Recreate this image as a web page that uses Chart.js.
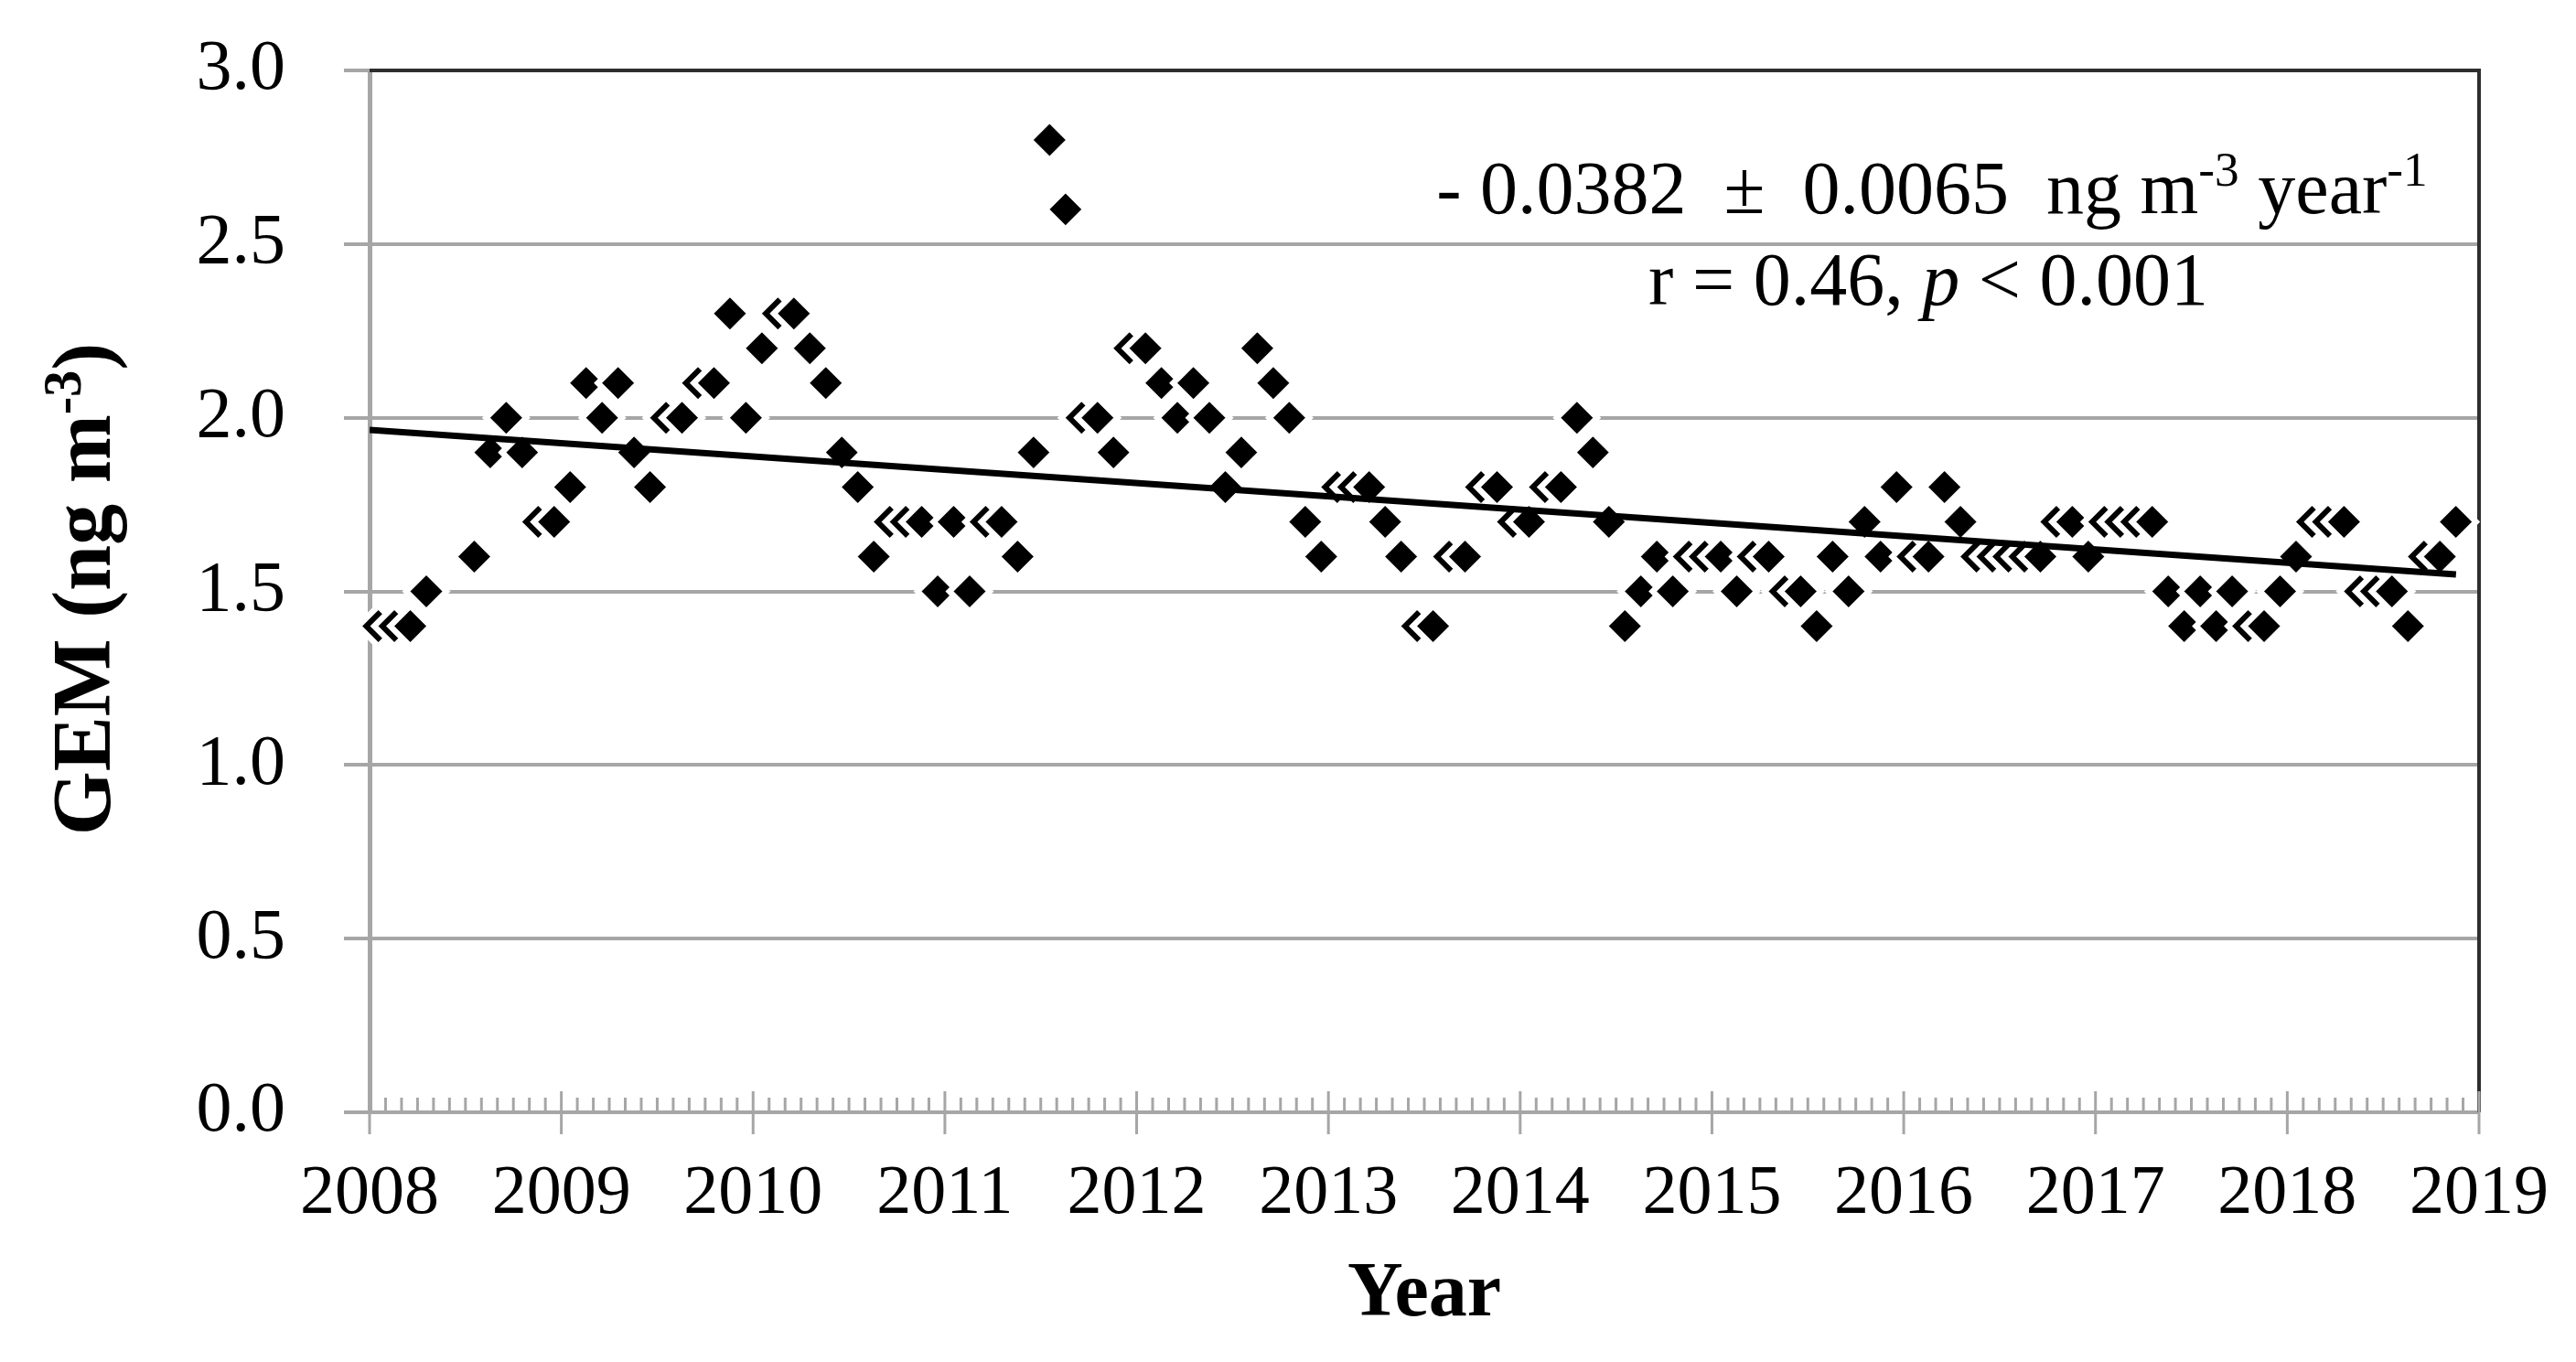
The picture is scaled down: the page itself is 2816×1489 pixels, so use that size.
<!DOCTYPE html>
<html>
<head>
<meta charset="utf-8">
<title>GEM monthly trend</title>
<style>
  html, body { margin: 0; padding: 0; background: #fff; }
  #wrap { width: 2816px; height: 1489px; }
</style>
<script src="https://cdn.jsdelivr.net/npm/chart.js@4.4.1/dist/chart.umd.min.js"></script>
</head>
<body>
<div id="wrap"><canvas id="gemChart" width="2816" height="1489"></canvas></div>
<script>
// monthly mean GEM (ng m-3), Jan..Dec, null = no data
const gem2008 = [1.4, 1.4, 1.4, 1.5, null, null, 1.6, 1.9, 2.0, 1.9, 1.7, 1.7];
const gem2009 = [1.8, 2.1, 2.0, 2.1, 1.9, 1.8, 2.0, 2.0, 2.1, 2.1, 2.3, 2.0];
const gem2010 = [2.2, 2.3, 2.3, 2.2, 2.1, 1.9, 1.8, 1.6, 1.7, 1.7, 1.7, 1.5];
const gem2011 = [1.7, 1.5, 1.7, 1.7, 1.6, 1.9, 2.8, 2.6, 2.0, 2.0, 1.9, 2.2];
const gem2012 = [2.2, 2.1, 2.0, 2.1, 2.0, 1.8, 1.9, 2.2, 2.1, 2.0, 1.7, 1.6];
const gem2013 = [1.8, 1.8, 1.8, 1.7, 1.6, 1.4, 1.4, 1.6, 1.6, 1.8, 1.8, 1.7];
const gem2014 = [1.7, 1.8, 1.8, 2.0, 1.9, 1.7, 1.4, 1.5, 1.6, 1.5, 1.6, 1.6];
const gem2015 = [1.6, 1.5, 1.6, 1.6, 1.5, 1.5, 1.4, 1.6, 1.5, 1.7, 1.6, 1.8];
const gem2016 = [1.6, 1.6, 1.8, 1.7, 1.6, 1.6, 1.6, 1.6, 1.6, 1.7, 1.7, 1.6];
const gem2017 = [1.7, 1.7, 1.7, 1.7, 1.5, 1.4, 1.5, 1.4, 1.5, 1.4, 1.4, 1.5];
const gem2018 = [1.6, 1.7, 1.7, 1.7, 1.5, 1.5, 1.5, 1.4, 1.6, 1.6, 1.7, null];

const years = [2008, 2009, 2010, 2011, 2012, 2013, 2014, 2015, 2016, 2017, 2018];
const gemByYear = [gem2008, gem2009, gem2010, gem2011, gem2012, gem2013,
                   gem2014, gem2015, gem2016, gem2017, gem2018];

// linear trend end points
const trendX = [2008.0, 2018.88];
const trendY = [1.965, 1.549];

// axis ticks
const yearTicks = [2008, 2009, 2010, 2011, 2012, 2013, 2014, 2015, 2016, 2017, 2018, 2019];
const gemTicks = [0, 0.5, 1.0, 1.5, 2.0, 2.5, 3.0];

const serif = "'Liberation Serif', 'Times New Roman', serif";
const gridGray = '#a6a6a6';

let points = [];
years.forEach(function(yr, i){
  gemByYear[i].forEach(function(v, mo){
    if(v !== null){
      points.push({x: yr + (mo + 0.55) / 12, y: v});
    }
  });
});

let trend = [];
for(let i=0; i<trendX.length; i++){
  trend.push({x: trendX[i], y: trendY[i]});
}

// draws a row of text pieces (normal / italic / superscript) centred on cx
function drawRuns(ctx, runs, cx, baseline, size, weight){
  let total = 0;
  runs.forEach(function(r){
    let s = r.sup ? size * 0.65 : size;
    r.font = (r.italic ? 'italic ' : '') + weight + ' ' + s + 'px ' + serif;
    ctx.font = r.font;
    r.w = ctx.measureText(r.t).width;
    total += r.w;
  });
  let x = cx - total / 2;
  runs.forEach(function(r){
    ctx.font = r.font;
    ctx.fillText(r.t, x, baseline - (r.sup ? size * 0.36 : 0));
    x += r.w;
  });
}

const framePlugin = {
  id: 'frame',
  beforeDatasetsDraw(chart){
    const ctx = chart.ctx;
    const a = chart.chartArea;
    const xs = chart.scales.x;
    ctx.save();
    // top + right border of the plot area
    ctx.strokeStyle = '#2e2e2e';
    ctx.lineWidth = 4;
    ctx.beginPath();
    ctx.moveTo(a.left, a.top);
    ctx.lineTo(a.right, a.top);
    ctx.lineTo(a.right, a.bottom);
    ctx.stroke();
    // year ticks cross the axis, month ticks sit inside
    ctx.strokeStyle = gridGray;
    ctx.lineWidth = 3;
    ctx.beginPath();
    for(let yr=yearTicks[0]; yr<=yearTicks[yearTicks.length-1]; yr++){
      let px = xs.getPixelForValue(yr);
      ctx.moveTo(px, a.bottom - 23);
      ctx.lineTo(px, a.bottom + 24);
      if(yr == yearTicks[yearTicks.length-1]) break;
      for(let m=1; m<12; m++){
        let mx = xs.getPixelForValue(yr + m / 12);
        ctx.moveTo(mx, a.bottom - 16);
        ctx.lineTo(mx, a.bottom);
      }
    }
    ctx.stroke();
    ctx.restore();
  },
  afterDraw(chart){
    const ctx = chart.ctx;
    ctx.save();
    ctx.fillStyle = '#000';
    ctx.textBaseline = 'alphabetic';
    // trend annotation
    drawRuns(ctx, [
      {t: '- 0.0382  \u00b1  0.0065  ng m'},
      {t: '-3', sup: true},
      {t: ' year'},
      {t: '-1', sup: true}
    ], 2112, 233, 82, 'normal');
    drawRuns(ctx, [
      {t: 'r = 0.46, '},
      {t: 'p', italic: true},
      {t: ' < 0.001'}
    ], 2108, 333, 82, 'normal');
    // y axis title
    ctx.translate(90, 644);
    ctx.rotate(-Math.PI / 2);
    drawRuns(ctx, [
      {t: 'GEM (ng m'},
      {t: '-3', sup: true},
      {t: ')'}
    ], 0, 30, 90, 'bold');
    ctx.restore();
  }
};

const ctx = document.getElementById('gemChart');

new Chart(ctx, {
  type: 'scatter',
  data: {
    datasets: [{
      type: 'line',
      data: trend,
      borderColor: '#000',
      borderWidth: 7,
      pointRadius: 0,
      fill: false,
      order: 0
    }, {
      data: points,
      pointStyle: 'rectRot',
      pointRadius: 22,
      pointBorderWidth: 6.4,
      pointBackgroundColor: '#000',
      pointBorderColor: '#fff',
      pointHoverRadius: 22,
      clip: false,
      order: 1
    }]
  },
  options: {
    responsive: false,
    animation: false,
    devicePixelRatio: 1,
    layout: {
      padding: {left: 0, right: 106, top: 77, bottom: 0}
    },
    plugins: {
      legend: {display: false},
      tooltip: {enabled: false}
    },
    scales: {
      x: {
        type: 'linear',
        min: 2008,
        max: 2019,
        afterBuildTicks: function(s){
          s.ticks = yearTicks.map(function(v){ return {value: v}; });
        },
        afterFit: function(s){
          s.height = 273;
          s.paddingLeft = 0;
          s.paddingRight = 0;
        },
        grid: {display: false, drawTicks: false},
        border: {display: true, color: gridGray, width: 4},
        ticks: {
          color: '#000',
          font: {family: serif, size: 76},
          padding: 44,
          maxRotation: 0,
          autoSkip: false,
          callback: function(v){ return String(v); }
        },
        title: {
          display: true,
          text: 'Year',
          color: '#000',
          font: {family: serif, size: 84, weight: 'bold'},
          padding: {top: 0, bottom: 22}
        }
      },
      y: {
        min: 0,
        max: 3,
        afterBuildTicks: function(s){
          s.ticks = gemTicks.map(function(v){ return {value: v}; });
        },
        afterFit: function(s){
          s.width = 404;
          s.paddingTop = 0;
          s.paddingBottom = 0;
        },
        grid: {color: gridGray, lineWidth: 4, tickLength: 28, drawTicks: true},
        border: {display: true, color: gridGray, width: 5},
        ticks: {
          color: '#000',
          font: {family: serif, size: 78},
          padding: 64,
          callback: function(v){ return Number(v).toFixed(1); }
        }
      }
    }
  },
  plugins: [framePlugin]
});
</script>
</body>
</html>
